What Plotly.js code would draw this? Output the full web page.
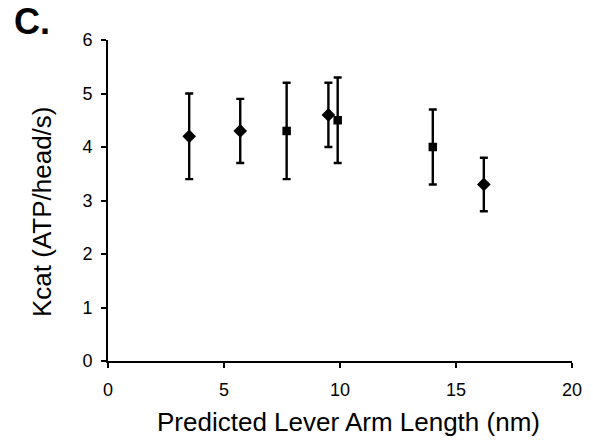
<!DOCTYPE html>
<html>
<head>
<meta charset="utf-8">
<script src="https://cdn.plot.ly/plotly-3.0.1.min.js"></script>
<style>html,body{margin:0;padding:0;background:#fff;}#chart{width:593px;height:440px;}</style>
</head>
<body>
<div id="chart"></div>
<script>
// Diamond series
const diamondX = [3.5, 5.7, 9.5, 16.2];
const diamondY = [4.2, 4.3, 4.6, 3.3];
const diamondErrPlus = [0.8, 0.6, 0.6, 0.5];
const diamondErrMinus = [0.8, 0.6, 0.6, 0.5];
// Square series
const squareX = [7.7, 9.9, 14.0];
const squareY = [4.3, 4.5, 4.0];
const squareErrPlus = [0.9, 0.8, 0.7];
const squareErrMinus = [0.9, 0.8, 0.7];

const xTickVals = [0, 5, 10, 15, 20];
const yTickVals = [0, 1, 2, 3, 4, 5, 6];

const xTitle = 'Predicted Lever Arm Length (nm)';
const yTitle = 'Kcat (ATP/head/s)';
const panelLabel = 'C.';

const FONT = 'Liberation Sans, Arial, sans-serif';
const W = 593, H = 440, ML = 108, MR = 21, MT = 40, MB = 79;
const PW = W - ML - MR, PH = H - MT - MB;
const px2x = p => (p - ML) / PW;
const px2y = p => (H - MB - p) / PH;

const errStyle = {type: 'data', symmetric: false, color: '#000', thickness: 2.4, width: 4};

const traces = [
  {
    x: diamondX, y: diamondY, mode: 'markers', type: 'scatter',
    marker: {symbol: 'diamond', size: 10.5, color: '#000'},
    error_y: Object.assign({array: diamondErrPlus, arrayminus: diamondErrMinus}, errStyle),
    showlegend: false
  },
  {
    x: squareX, y: squareY, mode: 'markers', type: 'scatter',
    marker: {symbol: 'square', size: 8.5, color: '#000'},
    error_y: Object.assign({array: squareErrPlus, arrayminus: squareErrMinus}, errStyle),
    showlegend: false
  }
];

const layout = {
  width: W, height: H,
  margin: {l: ML, r: MR, t: MT, b: MB},
  paper_bgcolor: '#fff', plot_bgcolor: '#fff',
  font: {family: FONT, color: '#000'},
  xaxis: {
    range: [0, 20], tickvals: xTickVals, ticktext: xTickVals.map(String),
    showgrid: false, zeroline: false, showline: true, linecolor: '#000', linewidth: 2,
    ticks: 'outside', ticklen: 5, tickwidth: 2, tickcolor: '#000',
    ticklabelstandoff: 6,
    tickfont: {family: FONT, size: 18, color: '#000'},
    automargin: false
  },
  yaxis: {
    range: [0, 6], tickvals: yTickVals, ticktext: yTickVals.map(String),
    showgrid: false, zeroline: false, showline: true, linecolor: '#000', linewidth: 2,
    ticks: 'outside', ticklen: 5, tickwidth: 2, tickcolor: '#000',
    ticklabelstandoff: 5,
    tickfont: {family: FONT, size: 18, color: '#000'},
    automargin: false
  },
  annotations: [
    {text: '<b>' + panelLabel + '</b>', x: px2x(32), y: px2y(22), xref: 'paper', yref: 'paper',
     xanchor: 'center', yanchor: 'middle', showarrow: false,
     font: {family: FONT, size: 36, color: '#000'}},
    {text: xTitle, x: px2x(348), y: px2y(422), xref: 'paper', yref: 'paper',
     xanchor: 'center', yanchor: 'middle', showarrow: false,
     font: {family: FONT, size: 26, color: '#000'}},
    {text: yTitle, x: px2x(42), y: px2y(212), xref: 'paper', yref: 'paper', textangle: -90,
     xanchor: 'center', yanchor: 'middle', showarrow: false,
     font: {family: FONT, size: 26, color: '#000'}}
  ]
};

Plotly.newPlot('chart', traces, layout, {displayModeBar: false, staticPlot: true});
</script>
</body>
</html>
